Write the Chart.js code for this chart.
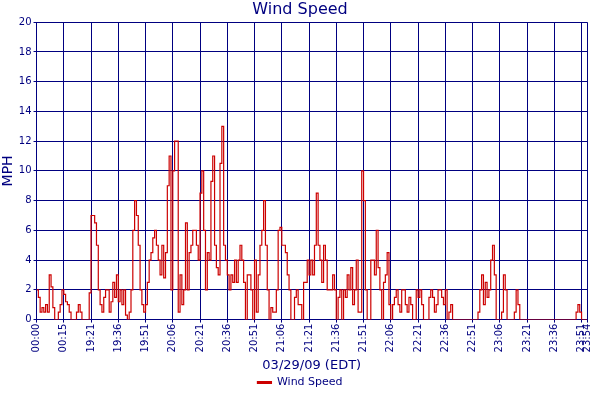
<!DOCTYPE html>
<html>
<head>
<meta charset="utf-8">
<script src="https://cdn.jsdelivr.net/npm/chart.js@4"></script>
<style>
  body { margin: 0; background: #fff; }
  #wrap { width: 600px; height: 400px; }
</style>
</head>
<body>
<div id="wrap"><canvas id="chart"></canvas></div>
<script>
const tickLabels = ['00:00', '00:15', '19:21', '19:36', '19:51', '20:06', '20:21', '20:36', '20:51', '21:06',
  '21:21', '21:36', '21:51', '22:06', '22:21', '22:36', '22:51', '23:06', '23:21', '23:36', '23:51', '23:54'];
const tickIndex = [0, 15, 30, 45, 60, 75, 90, 105, 120, 135, 150, 165, 180, 195, 210, 225, 240, 255, 270, 285, 300, 303];

// one reading per sample, 15 samples between grid lines
const windSpeed = [
  2, 1.5, 0.5, 0.8, 0.5, 1, 0.5, 3, 2.2, 0.8, 0, 0, 0.5, 1, 2,
  1.7, 1.2, 1, 0.5, 0, 0, 0, 0.5, 1, 0.5, 0, 0, 0, 0, 1.8,
  7, 7, 6.5, 5, 2, 1, 0.5, 1.5, 2, 2, 0.5, 1.2, 2.5, 1.5, 3,
  1.2, 2, 1, 2, 0.3, 0, 0.5, 2, 6, 8, 7, 5, 2, 1, 0.5,
  1, 2.5, 4, 4.5, 5.5, 6, 5, 4, 3, 5, 2.8, 4.5, 9, 11, 2,
  10, 12, 12, 0.5, 3, 1, 2, 6.5, 2, 4.5, 5, 6, 6, 5, 4,
  8.5, 10, 6, 2, 4.5, 4, 9.3, 11, 5, 3.5, 3, 10.5, 13, 5, 4,
  3, 2, 3, 2.5, 4, 2.5, 4, 5, 4, 2.5, 0, 3, 3, 2, 0,
  4, 0.5, 3, 5, 6, 8, 5, 2, 0, 0.8, 0.5, 0.5, 2, 6, 6.2,
  5, 5, 4.5, 3, 2, 0, 0, 1.5, 2, 1, 1, 0, 2.5, 2.5, 4,
  3, 4, 3, 5, 8.5, 5, 4, 2.5, 5, 4, 2, 2, 2, 3, 2,
  0, 1.5, 2, 0, 2, 1.5, 3, 2, 3.5, 1, 2, 4, 0.5, 0.5, 10,
  8, 2, 0, 0, 4, 4, 3, 6, 3.5, 2, 0, 2.5, 3, 4.5, 1,
  0, 1, 1.5, 2, 1, 0.5, 2, 2, 1, 0.5, 1.5, 1, 0, 0, 2,
  1.5, 2, 1, 0, 0, 0, 1.5, 2, 1.5, 0.5, 1, 2, 2, 1.5, 1,
  2, 0, 0.5, 1, 0, 0, 0, 0, 0, 0, 0, 0, 0, 0, 0,
  0, 0, 0, 0.5, 2, 3, 1, 2.5, 1.5, 2, 4, 5, 3, 0, 0,
  0, 0.5, 3, 2, 0, 0, 0, 0, 0.5, 2, 1, 0, 0, 0, 0,
  0, 0, 0, 0, 0, 0, 0, 0, 0, 0, 0, 0, 0, 0, 0,
  0, 0, 0, 0, 0, 0, 0, 0, 0, 0, 0, 0, 0.5, 1, 0.5,
  0, 0, 0, 0
];

const navy = '#000080';

new Chart(document.getElementById('chart'), {
  type: 'line',
  data: {
    datasets: [{
      label: 'Wind Speed',
      data: windSpeed.map((v, i) => ({ x: i, y: v })),
      borderColor: '#cc0000',
      backgroundColor: '#cc0000',
      borderWidth: 1.2,
      stepped: true,
      pointRadius: 0,
      fill: false
    }]
  },
  options: {
    responsive: true,
    maintainAspectRatio: false,
    animation: false,
    layout: { padding: { right: 0, top: 0, bottom: 2 } },
    plugins: {
      title: { display: true, text: 'Wind Speed', color: navy, font: { family: 'DejaVu Sans', size: 16, weight: 'normal' }, padding: { top: 0, bottom: 3 } },
      legend: {
        position: 'bottom',
        labels: { color: navy, font: { family: 'DejaVu Sans', size: 11 }, boxWidth: 14, boxHeight: 2, padding: 4 }
      },
      tooltip: { enabled: false }
    },
    scales: {
      x: {
        type: 'linear',
        min: 0,
        max: tickIndex[tickIndex.length - 1],
        afterBuildTicks: axis => { axis.ticks = tickIndex.map(v => ({ value: v })); },
        ticks: {
          color: navy,
          font: { family: 'DejaVu Sans', size: 10 },
          maxRotation: 90,
          minRotation: 90,
          autoSkip: false,
          padding: 1,
          callback: (v) => tickLabels[tickIndex.indexOf(v)]
        },
        grid: { color: navy, lineWidth: 1, drawTicks: true, tickLength: 3 },
        border: { color: navy },
        title: { display: true, text: '03/29/09 (EDT)', color: navy, font: { family: 'DejaVu Sans', size: 13 }, padding: { top: 4, bottom: 0 } }
      },
      y: {
        min: 0,
        max: 20,
        ticks: { stepSize: 2, color: navy, font: { family: 'DejaVu Sans', size: 10 }, padding: 2 },
        grid: { color: navy, lineWidth: 1, tickLength: 3 },
        border: { color: navy },
        title: { display: true, text: 'MPH', color: navy, font: { family: 'DejaVu Sans', size: 14 }, padding: 0 }
      }
    }
  }
});
</script>
</body>
</html>
